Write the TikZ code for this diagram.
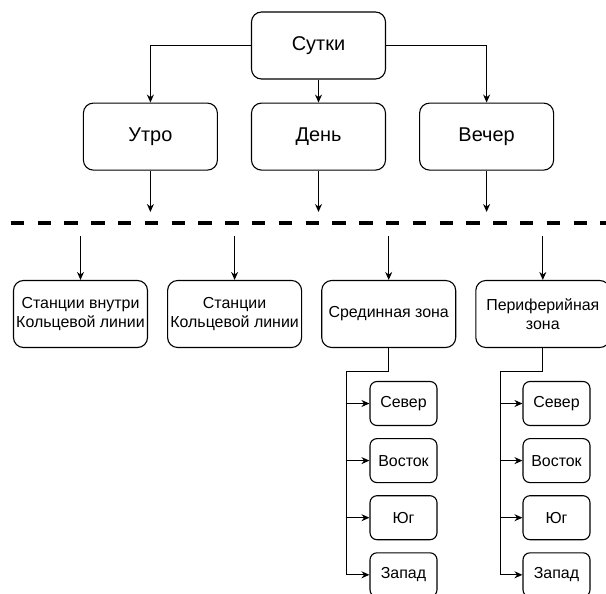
\documentclass[tikz,border=0pt]{standalone}
\usepackage{fontspec}
\setmainfont{Liberation Sans}
\usetikzlibrary{
        positioning,
        arrows.meta
    }

\begin{document}
\begin{tikzpicture}
[x=1bp, y=-1bp,
baseshape/.style={text centered, align=center, draw=black, line width=1.1bp, fill=white, inner sep=0pt},
bigbox/.style={baseshape, rectangle, rounded corners=10bp, minimum width=134bp, minimum height=67bp, font=\fontsize{20}{24}\selectfont},
block/.style={baseshape, rectangle, rounded corners=10bp, minimum width=134bp, minimum height=67bp, font=\fontsize{16}{19.2}\selectfont},
smallbox/.style={baseshape, rectangle, rounded corners=7bp, minimum width=67bp, minimum height=44bp, font=\fontsize{16}{19.2}\selectfont},
arrow/.style={line width=1.1bp, -{Stealth[length=8bp, width=7bp]}},
separator/.style={line width=4.5bp, dash pattern=on 13.4bp off 13.4bp},]
\useasboundingbox (0,0) rectangle (606,594);

\node (day0) [bigbox] at (318.5,45.5) {Сутки};
\node (noon) [bigbox, below=23bp of day0] {День};
\node (morning) [bigbox, left=33bp of noon] {Утро};
\node (evening) [bigbox, right=33bp of noon] {Вечер};

\draw[arrow] (day0.west) -| (morning.north);
\draw[arrow] (day0.south) -- (noon.north);
\draw[arrow] (day0.east) -| (evening.north);

\coordinate (cutA) at (0,212);
\coordinate (cutB) at (0,236);
\coordinate (sepL) at (10.7,223);
\coordinate (sepR) at (606,223);

\draw[arrow] (morning.south) -- (morning.south |- cutA);
\draw[arrow] (noon.south) -- (noon.south |- cutA);
\draw[arrow] (evening.south) -- (evening.south |- cutA);

\draw [separator] (sepL) -- (sepR);

\node (inner) [block] at (80.5,314) {Станции внутри\\Кольцевой линии};
\node (ring) [block, right=19bp of inner] {Станции\\Кольцевой линии};
\node (midzone) [block, right=19bp of ring] {Срединная зона};
\node (outzone) [block, right=19bp of midzone] {Периферийная\\зона};

\draw[arrow] (inner.north |- cutB) -- (inner.north);
\draw[arrow] (ring.north |- cutB) -- (ring.north);
\draw[arrow] (midzone.north |- cutB) -- (midzone.north);
\draw[arrow] (outzone.north |- cutB) -- (outzone.north);

% middle zone parts
\node (midN) [smallbox] at (403.5,403.5) {Север};
\node (midE) [smallbox, below=12bp of midN] {Восток};
\node (midS) [smallbox, below=12bp of midE] {Юг};
\node (midW) [smallbox, below=12bp of midS] {Запад};

\coordinate (trunkM) at (346.5,371.5);
\draw[arrow] (midzone.south) |- (trunkM) |- (midW.west);
\draw[arrow] (trunkM |- midN.west) -- (midN.west);
\draw[arrow] (trunkM |- midE.west) -- (midE.west);
\draw[arrow] (trunkM |- midS.west) -- (midS.west);

% outer zone parts
\node (outN) [smallbox] at (556.5,403.5) {Север};
\node (outE) [smallbox, below=12bp of outN] {Восток};
\node (outS) [smallbox, below=12bp of outE] {Юг};
\node (outW) [smallbox, below=12bp of outS] {Запад};

\coordinate (trunkO) at (500.5,371.5);
\draw[arrow] (outzone.south) |- (trunkO) |- (outW.west);
\draw[arrow] (trunkO |- outN.west) -- (outN.west);
\draw[arrow] (trunkO |- outE.west) -- (outE.west);
\draw[arrow] (trunkO |- outS.west) -- (outS.west);

\end{tikzpicture}
\end{document}
